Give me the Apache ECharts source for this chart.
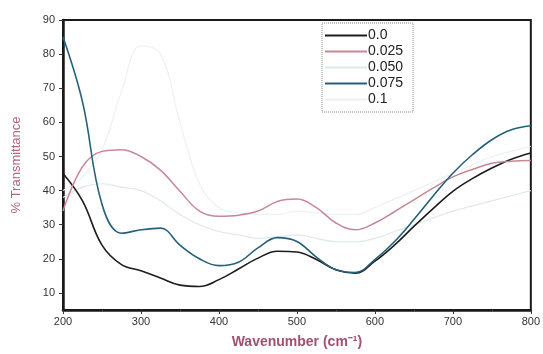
<!DOCTYPE html>
<html>
<head>
<meta charset="utf-8">
<script src="https://cdn.jsdelivr.net/npm/echarts@6/dist/echarts.min.js"></script>
<style>
  html, body { margin: 0; padding: 0; background: #fff; }
  #chart { width: 543px; height: 354px; }
</style>
</head>
<body>
<div id="chart"></div>
<script>
// wavenumber grid (cm-1)
var wavenumbers = [200, 225, 250, 275, 300, 325, 350, 375, 400, 425, 450, 475, 500,
                   525, 550, 575, 600, 625, 650, 675, 700, 725, 750, 775, 800];

// % transmittance
var t000 = [45, 37, 24, 18.3, 16.5, 14.4, 12.3, 11.9, 13.9, 17, 20.2, 22.2, 22,
            19.8, 16.8, 15.8, 19.3, 24, 29.5, 34.8, 39.8, 43.5, 46.6, 49.2, 51];
var t025 = [34, 47, 51.5, 52, 50, 46, 39.8, 34, 32.5, 32.8, 34, 36.8, 37.5,
            35, 30.5, 28.5, 30.5, 33.8, 37.3, 40.8, 44, 46.2, 48, 48.6, 48.8];
var t050 = [38, 41, 42, 41, 40, 37, 33, 30, 28, 27, 26, 26.5, 27,
            26, 25, 25, 26, 28, 30, 32, 34, 35.5, 37, 38.5, 40];
var t075 = [85, 66, 36, 27.5, 28.5, 29, 24, 20, 18, 19, 23.2, 26.2, 25.1,
            20.5, 16.8, 16, 19.8, 25, 31.5, 38.5, 45.1, 50.5, 54.9, 57.8, 59];
var t100 = [40, 44, 52, 69, 82.5, 80, 60, 42, 35, 33.5, 33, 33, 34,
            33.5, 33, 33, 35, 37.5, 40, 42.5, 45, 47.5, 50, 51.5, 53];

var seriesNames = ['0.0', '0.025', '0.050', '0.075', '0.1'];
var seriesValues = [t000, t025, t050, t075, t100];
var seriesColors = ['#1c1c1c', '#c88893', '#dde9eb', '#24607a', '#eaf2f3'];
var seriesWidths = [1.6, 1.5, 1.2, 1.6, 1.2];

var yTicks = [10, 20, 30, 40, 50, 60, 70, 80, 90];

function pairs(vals) {
    var out = [];
    for (var i = 0; i < wavenumbers.length; i++) {
        out.push([wavenumbers[i], vals[i]]);
    }
    return out;
}

var series = [];
for (var i = 0; i < seriesNames.length; i++) {
    series.push({
        name: seriesNames[i],
        type: 'line',
        smooth: 0.4,
        showSymbol: false,
        symbol: 'none',
        lineStyle: { color: seriesColors[i], width: seriesWidths[i] },
        itemStyle: { color: seriesColors[i] },
        data: pairs(seriesValues[i]),
        z: (i === 2 || i === 4) ? 1 : 2
    });
}

var chart = echarts.init(document.getElementById('chart'));
chart.setOption({
    backgroundColor: '#ffffff',
    animation: false,
    textStyle: { fontFamily: 'Liberation Sans, Arial, sans-serif' },
    grid: {
        left: 63, right: 12, top: 20, bottom: 44,
        show: true,
        borderColor: '#1a1a1a',
        borderWidth: 2
    },
    legend: {
        orient: 'vertical',
        left: 322,
        top: 23,
        data: seriesNames,
        icon: 'rect',
        itemWidth: 42,
        itemHeight: 2,
        itemGap: 1,
        padding: [5, 10, 5, 3],
        borderColor: '#888',
        borderWidth: 1,
        borderType: 'dotted',
        backgroundColor: '#fff',
        textStyle: { fontSize: 14, lineHeight: 15, color: '#222', padding: [0, 0, 0, -4] }
    },
    xAxis: {
        type: 'value',
        min: 200,
        max: 800,
        interval: 100,
        name: 'Wavenumber (cm\u207B\u00B9)',
        nameLocation: 'middle',
        nameGap: 25,
        nameTextStyle: { color: '#a2506f', fontSize: 14, fontWeight: 'bold' },
        axisLine: { lineStyle: { color: '#1a1a1a', width: 2.5 } },
        axisTick: { show: true, length: 4, lineStyle: { color: '#333' } },
        minorTick: { show: true, splitNumber: 2, length: 2, lineStyle: { color: '#555' } },
        axisLabel: { color: '#333', fontSize: 11, margin: 6 },
        splitLine: { show: false }
    },
    yAxis: {
        type: 'value',
        min: 5,
        max: 90,
        name: '% Transmittance',
        nameLocation: 'middle',
        nameGap: 40,
        nameTextStyle: { color: '#b36680', fontSize: 13 },
        axisLine: { lineStyle: { color: '#1a1a1a', width: 2.5 } },
        axisTick: { show: true, length: 4, customValues: yTicks, lineStyle: { color: '#333' } },
        axisLabel: { color: '#333', fontSize: 11, margin: 8, customValues: yTicks },
        splitLine: { show: false }
    },
    series: series
});
</script>
</body>
</html>
